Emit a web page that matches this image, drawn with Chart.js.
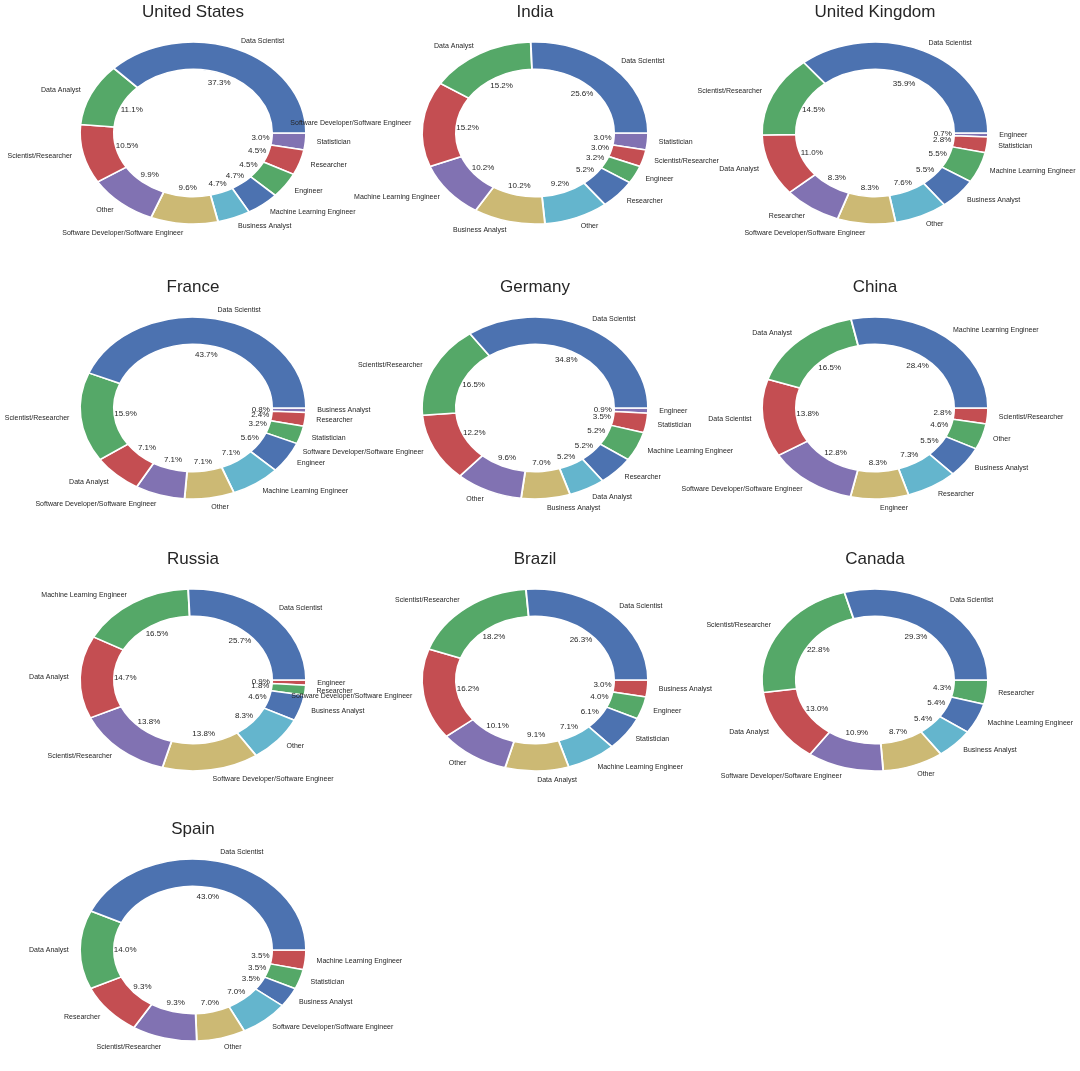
<!DOCTYPE html>
<html>
<head>
<meta charset="utf-8">
<script src="https://cdn.jsdelivr.net/npm/chart.js@4.4.1/dist/chart.umd.min.js"></script>
<style>
  html, body { margin: 0; padding: 0; background: #fff; overflow: hidden; }
  #wrap { position: relative; width: 1080px; height: 1071px; }
  canvas { position: absolute; }
</style>
</head>
<body>
<div id="wrap"></div>
<script>
// one donut per country, values are the shares (%)
const countries = ["United States", "India", "United Kingdom", "France", "Germany", "China", "Russia", "Brazil", "Canada", "Spain"];

const usLabels = ["Data Scientist", "Data Analyst", "Scientist/Researcher", "Other", "Software Developer/Software Engineer", "Business Analyst", "Machine Learning Engineer", "Engineer", "Researcher", "Statistician"];
const usValues = [37.3, 11.1, 10.5, 9.9, 9.6, 4.7, 4.7, 4.5, 4.5, 3.0];

const indiaLabels = ["Data Scientist", "Data Analyst", "Software Developer/Software Engineer", "Machine Learning Engineer", "Business Analyst", "Other", "Researcher", "Engineer", "Scientist/Researcher", "Statistician"];
const indiaValues = [25.6, 15.2, 15.2, 10.2, 10.2, 9.2, 5.2, 3.2, 3.0, 3.0];

const ukLabels = ["Data Scientist", "Scientist/Researcher", "Data Analyst", "Researcher", "Software Developer/Software Engineer", "Other", "Business Analyst", "Machine Learning Engineer", "Statistician", "Engineer"];
const ukValues = [35.9, 14.5, 11.0, 8.3, 8.3, 7.6, 5.5, 5.5, 2.8, 0.7];

const franceLabels = ["Data Scientist", "Scientist/Researcher", "Data Analyst", "Software Developer/Software Engineer", "Other", "Machine Learning Engineer", "Engineer", "Statistician", "Researcher", "Business Analyst"];
const franceValues = [43.7, 15.9, 7.1, 7.1, 7.1, 7.1, 5.6, 3.2, 2.4, 0.8];

const germanyLabels = ["Data Scientist", "Scientist/Researcher", "Software Developer/Software Engineer", "Other", "Business Analyst", "Data Analyst", "Researcher", "Machine Learning Engineer", "Statistician", "Engineer"];
const germanyValues = [34.8, 16.5, 12.2, 9.6, 7.0, 5.2, 5.2, 5.2, 3.5, 0.9];

const chinaLabels = ["Machine Learning Engineer", "Data Analyst", "Data Scientist", "Software Developer/Software Engineer", "Engineer", "Researcher", "Business Analyst", "Other", "Scientist/Researcher"];
const chinaValues = [28.4, 16.5, 13.8, 12.8, 8.3, 7.3, 5.5, 4.6, 2.8];

const russiaLabels = ["Data Scientist", "Machine Learning Engineer", "Data Analyst", "Scientist/Researcher", "Software Developer/Software Engineer", "Other", "Business Analyst", "Researcher", "Engineer"];
const russiaValues = [25.7, 16.5, 14.7, 13.8, 13.8, 8.3, 4.6, 1.8, 0.9];

const brazilLabels = ["Data Scientist", "Scientist/Researcher", "Software Developer/Software Engineer", "Other", "Data Analyst", "Machine Learning Engineer", "Statistician", "Engineer", "Business Analyst"];
const brazilValues = [26.3, 18.2, 16.2, 10.1, 9.1, 7.1, 6.1, 4.0, 3.0];

const canadaLabels = ["Data Scientist", "Scientist/Researcher", "Data Analyst", "Software Developer/Software Engineer", "Other", "Business Analyst", "Machine Learning Engineer", "Researcher"];
const canadaValues = [29.3, 22.8, 13.0, 10.9, 8.7, 5.4, 5.4, 4.3];

const spainLabels = ["Data Scientist", "Data Analyst", "Researcher", "Scientist/Researcher", "Other", "Software Developer/Software Engineer", "Business Analyst", "Statistician", "Machine Learning Engineer"];
const spainValues = [43.0, 14.0, 9.3, 9.3, 7.0, 7.0, 3.5, 3.5, 3.5];

const allLabels = [usLabels, indiaLabels, ukLabels, franceLabels, germanyLabels, chinaLabels, russiaLabels, brazilLabels, canadaLabels, spainLabels];
const allValues = [usValues, indiaValues, ukValues, franceValues, germanyValues, chinaValues, russiaValues, brazilValues, canadaValues, spainValues];

const palette = ["#4C72B0", "#55A868", "#C44E52", "#8172B2", "#CCB974", "#64B5CD"];
const FONT = "'Liberation Sans', Arial, sans-serif";
const TEXT = "#262626";

// layout of the grid
const colX = [193, 535, 875];
const rowY = [133, 408, 680, 950];
const RY = 91;          // vertical radius
const SX = 113 / 91;    // pies are stretched sideways (non equal axes)
const W = 540, H = 272;

// squash the donut into an ellipse
const ellipsePlugin = {
  id: "ellipse",
  beforeDatasetsDraw(chart) {
    const arc = chart.getDatasetMeta(0).data[0];
    const ctx = chart.ctx;
    ctx.save();
    ctx.translate(arc.x, arc.y);
    ctx.scale(SX, 1);
    ctx.translate(-arc.x, -arc.y);
  },
  afterDatasetsDraw(chart) {
    chart.ctx.restore();
  }
};

// matplotlib style labels (1.1 r) and percentages (0.6 r)
const labelPlugin = {
  id: "pieLabels",
  afterDraw(chart) {
    const ctx = chart.ctx;
    const meta = chart.getDatasetMeta(0);
    const ds = chart.data.datasets[0];
    ctx.save();
    ctx.fillStyle = TEXT;
    ctx.textBaseline = "middle";
    meta.data.forEach((arc, i) => {
      const mid = (arc.startAngle + arc.endAngle) / 2;
      const r = arc.outerRadius;
      const c = Math.cos(mid), s = Math.sin(mid);
      // category
      ctx.font = "7px " + FONT;
      ctx.textAlign = c > 0 ? "left" : "right";
      ctx.fillText(chart.data.labels[i], arc.x + 1.1 * r * SX * c, arc.y + 1.1 * r * s);
      // percent
      ctx.font = "8px " + FONT;
      ctx.textAlign = "center";
      ctx.fillText(ds.data[i].toFixed(1) + "%", arc.x + 0.6 * r * SX * c, arc.y + 0.6 * r * s);
    });
    ctx.restore();
  }
};

const wrap = document.getElementById("wrap");

countries.forEach((name, k) => {
  const cx = colX[k % 3], cy = rowY[Math.floor(k / 3)];
  const canvas = document.createElement("canvas");
  canvas.width = W;
  canvas.height = H;
  canvas.style.left = (cx - W / 2) + "px";
  canvas.style.top = (cy - H / 2) + "px";
  wrap.appendChild(canvas);

  const labels = allLabels[k];
  const values = allValues[k];
  const colors = values.map((v, i) => palette[i % palette.length]);

  // matplotlib goes counter clockwise from 3 o'clock, so feed the slices reversed
  new Chart(canvas, {
    type: "doughnut",
    data: {
      labels: labels.slice().reverse(),
      datasets: [{
        data: values.slice().reverse(),
        backgroundColor: colors.slice().reverse(),
        borderColor: "#ffffff",
        borderWidth: 1.5,
        radius: RY,
        hoverOffset: 0
      }]
    },
    options: {
      responsive: false,
      animation: false,
      rotation: 90,
      cutout: "70%",
      layout: { padding: { bottom: 25.4 } },
      plugins: {
        legend: { display: false },
        tooltip: { enabled: false },
        title: {
          display: true,
          text: name,
          color: TEXT,
          font: { family: FONT, size: 17, weight: "normal" },
          padding: { top: 5, bottom: 0 }
        }
      }
    },
    plugins: [ellipsePlugin, labelPlugin]
  });
});
</script>
</body>
</html>
